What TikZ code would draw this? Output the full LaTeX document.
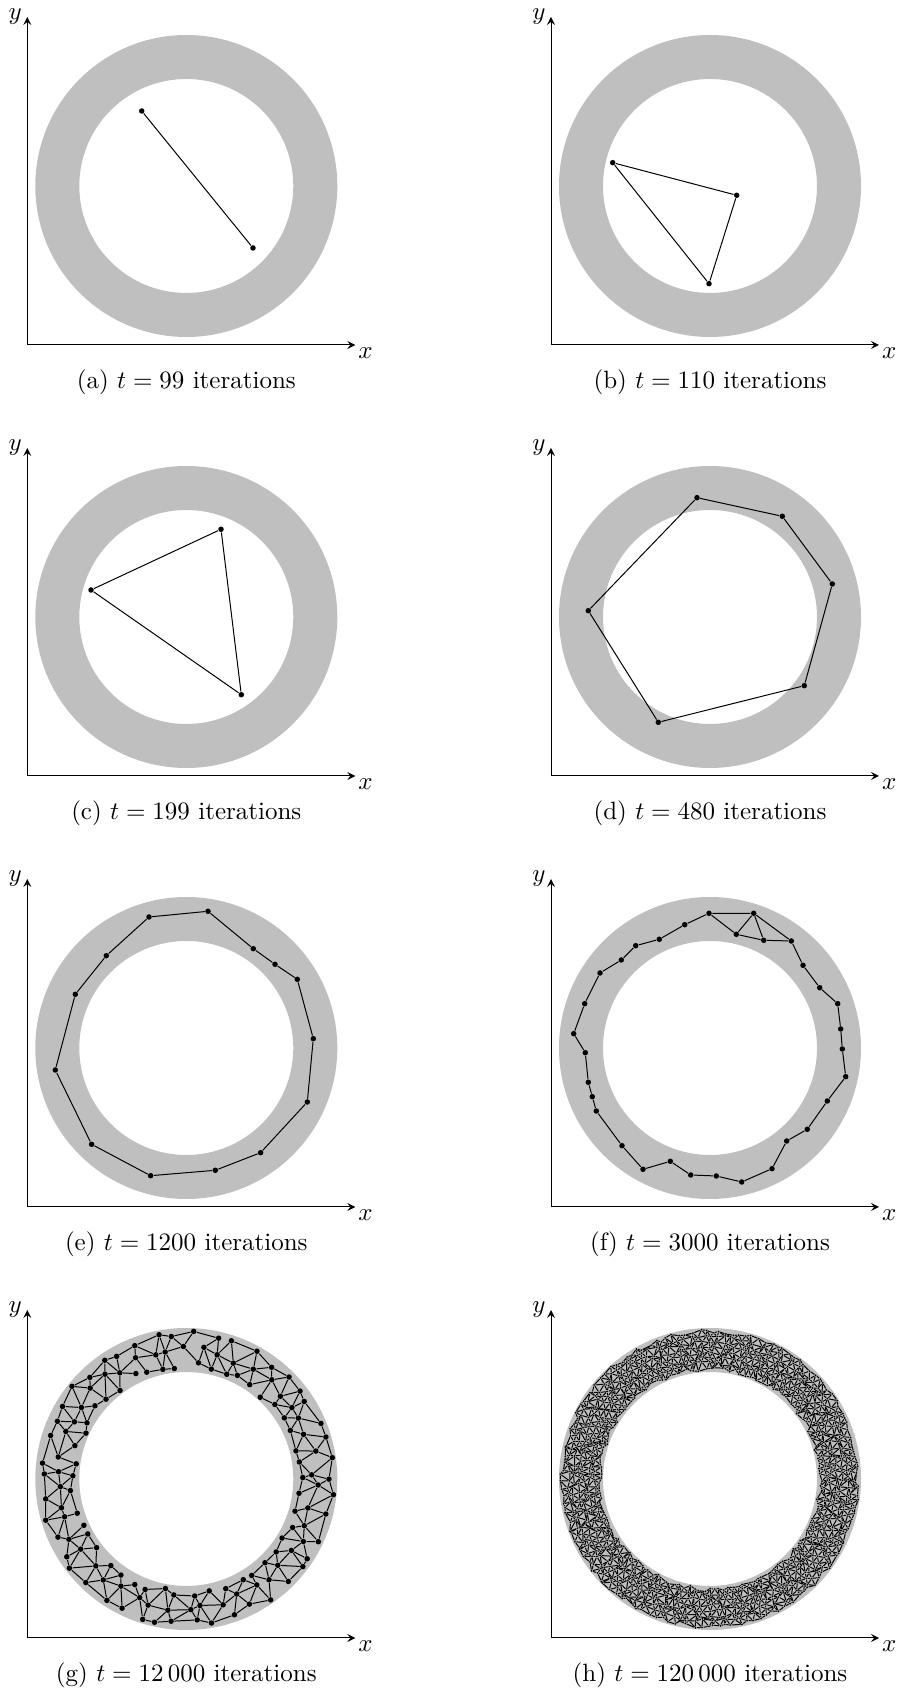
\documentclass[tikz,border=0pt]{standalone}
\usetikzlibrary{arrows}
\begin{document}
\begin{tikzpicture}[x=0.4pt, y=0.4pt, >=stealth,
        unit/.style={circle, fill=black, inner sep=0pt, minimum size=2.2pt},
        speck/.style={circle, fill=black, inner sep=0pt, minimum size=0.8pt},
        link/.style={thin},
        band/.style={fill=black!25, even odd rule}]
    \useasboundingbox (0,0) rectangle (903,1693);
    \foreach \ox/\oy/\lab/\num in {27.3/1348/a/99, 551/1348/b/110, 27.3/917/c/199, 551/917/d/480,
            27.3/486/e/1200, 551/486/f/3000, 27.3/55/g/{12\,000}, 551/55/h/{120\,000}} {
        \begin{scope}[shift={(\ox,\oy)}]
            \fill[band] (159,159) circle (151) (159,159) circle (107);
            \coordinate (o-\lab) at (0,0);
            \coordinate (ytip-\lab) at (0,328);
            \coordinate (xtip-\lab) at (328,0);
            \draw[->] (o-\lab) -- (ytip-\lab);
            \draw[->] (o-\lab) -- (xtip-\lab);
            \node[left, inner sep=2pt] (ylab-\lab) at (ytip-\lab) {$y$};
            \node[below right, inner sep=1pt] (xlab-\lab) at (xtip-\lab) {$x$};
            \node[anchor=base] (cap-\lab) at (159,-44) {(\lab) $t = \num$ iterations};
        \end{scope}
    }
    \begin{scope}[shift={(27.3,1348)}]
        \node[unit] (a1) at (114.4,234) {};
        \node[unit] (a2) at (225.7,97) {};
        \draw[link] (a1) -- (a2);
    \end{scope}
    \begin{scope}[shift={(551,1348)}]
        \node[unit] (b1) at (61.7,182.3) {};
        \node[unit] (b2) at (185.7,149.7) {};
        \node[unit] (b3) at (158,61.3) {};
        \draw[link] (b1) -- (b2) -- (b3) -- (b1);
    \end{scope}
    \begin{scope}[shift={(27.3,917)}]
        \node[unit] (c1) at (63.7,186) {};
        \node[unit] (c2) at (193.7,246.7) {};
        \node[unit] (c3) at (214,81.3) {};
        \draw[link] (c1) -- (c2) -- (c3) -- (c1);
    \end{scope}
    \begin{scope}[shift={(551,917)}]
        \node[unit] (d1) at (146,278.3) {};
        \node[unit] (d2) at (231.3,259.7) {};
        \node[unit] (d3) at (281.3,192) {};
        \node[unit] (d4) at (253.3,90.3) {};
        \node[unit] (d5) at (107.3,53.7) {};
        \node[unit] (d6) at (37.3,165.3) {};
        \draw[link] (d1) -- (d2) -- (d3) -- (d4) -- (d5) -- (d6) -- (d1);
    \end{scope}
    \begin{scope}[shift={(27.3,486)}]
        \node[unit] (e1) at (121.7,290) {};
        \node[unit] (e2) at (180.7,295.7) {};
        \node[unit] (e3) at (226,258.3) {};
        \node[unit] (e4) at (247.7,242.7) {};
        \node[unit] (e5) at (270,227.7) {};
        \node[unit] (e6) at (286,168.3) {};
        \node[unit] (e7) at (280,105) {};
        \node[unit] (e8) at (233.3,54.3) {};
        \node[unit] (e9) at (188,36.7) {};
        \node[unit] (e10) at (123.3,31.3) {};
        \node[unit] (e11) at (64.3,62.7) {};
        \node[unit] (e12) at (28,137) {};
        \node[unit] (e13) at (48,212.7) {};
        \node[unit] (e14) at (79,251.3) {};
        \draw[link] (e1) -- (e2) -- (e3) -- (e4) -- (e5) -- (e6) -- (e7) -- (e8) -- (e9) -- (e10)
            -- (e11) -- (e12) -- (e13) -- (e14) -- (e1);
    \end{scope}
    \begin{scope}[shift={(551,486)}]
        \node[unit] (fa) at (158,293.7) {};
        \node[unit] (fb) at (202.7,293.7) {};
        \node[unit] (fc) at (185.3,272.7) {};
        \node[unit] (fd) at (212.7,266.7) {};
        \node[unit] (fe) at (240.3,266) {};
        \node[unit] (f1) at (252,241.7) {};
        \node[unit] (f2) at (268.7,219.3) {};
        \node[unit] (f3) at (286.7,203.3) {};
        \node[unit] (f4) at (289.7,178) {};
        \node[unit] (f5) at (291.3,158) {};
        \node[unit] (f6) at (294.7,130.3) {};
        \node[unit] (f7) at (276.3,106) {};
        \node[unit] (f8) at (256.3,77.7) {};
        \node[unit] (f9) at (235.7,66) {};
        \node[unit] (f10) at (221,38.3) {};
        \node[unit] (f11) at (190.7,25) {};
        \node[unit] (f12) at (165.3,31) {};
        \node[unit] (f13) at (139.7,32) {};
        \node[unit] (f14) at (119.3,45.7) {};
        \node[unit] (f15) at (92,37.7) {};
        \node[unit] (f16) at (71,61.3) {};
        \node[unit] (f17) at (45.3,96) {};
        \node[unit] (f18) at (41.3,110.3) {};
        \node[unit] (f19) at (37.3,124.7) {};
        \node[unit] (f20) at (34.3,154.3) {};
        \node[unit] (f21) at (22.7,173.3) {};
        \node[unit] (f22) at (33.7,203.3) {};
        \node[unit] (f23) at (49,234) {};
        \node[unit] (f24) at (70.3,247) {};
        \node[unit] (f25) at (84.7,261.3) {};
        \node[unit] (f26) at (108.3,267.7) {};
        \node[unit] (f27) at (133.7,282.3) {};
        \draw[link] (fa) -- (fb) -- (fc) -- (fa);
        \draw[link] (fc) -- (fd) -- (fb) -- (fe) -- (fd);
        \draw[link] (fe) -- (f1) -- (f2) -- (f3) -- (f4) -- (f5) -- (f6) -- (f7) -- (f8) -- (f9)
            -- (f10) -- (f11) -- (f12) -- (f13) -- (f14) -- (f15) -- (f16) -- (f17) -- (f18)
            -- (f19) -- (f20) -- (f21) -- (f22) -- (f23) -- (f24) -- (f25) -- (f26) -- (f27) -- (fa);
    \end{scope}
    \pgfmathsetseed{4242}
    \begin{scope}[shift={(186.3,214)}]
        \foreach \k in {0,1,2}
            \foreach \i in {0,...,45} {
                \pgfmathsetmacro\ang{(\i+0.5*mod(\k,2)+0.3*rand)*7.826}
                \pgfmathsetmacro\rad{114+15*\k+4*rand}
                \node[unit] (g-\k-\i) at (\ang:\rad) {};
            }
        \foreach \k in {0,1,2}
            \foreach \i in {0,...,45} {
                \pgfmathtruncatemacro\j{mod(\i+1,46)}
                \pgfmathtruncatemacro\gap{100*rnd}
                \ifnum\gap<88 \draw[link] (g-\k-\i) -- (g-\k-\j); \fi
            }
        \foreach \k/\l in {0/1,1/2}
            \foreach \i in {0,...,45} {
                \pgfmathtruncatemacro\m{mod(\i+2*mod(\k,2)+45,46)}
                \draw[link] (g-\k-\i) -- (g-\l-\i);
                \pgfmathtruncatemacro\gap{100*rnd}
                \ifnum\gap<85 \draw[link] (g-\k-\i) -- (g-\l-\m); \fi
            }
    \end{scope}
    \begin{scope}[shift={(710,214)}]
        \foreach \k in {0,...,7}
            \foreach \i in {0,...,139} {
                \pgfmathsetmacro\ang{(\i+0.5*mod(\k,2)+0.45*rand)*2.5714}
                \pgfmathsetmacro\rad{110.5+5.3*\k+2.3*rand}
                \node[speck] (h-\k-\i) at (\ang:\rad) {};
            }
        \foreach \k in {0,...,7}
            \foreach \i in {0,...,139} {
                \pgfmathtruncatemacro\j{mod(\i+1,140)}
                \draw[link] (h-\k-\i) -- (h-\k-\j);
            }
        \foreach \k/\l in {0/1,1/2,2/3,3/4,4/5,5/6,6/7}
            \foreach \i in {0,...,139} {
                \pgfmathtruncatemacro\m{mod(\i+2*mod(\k,2)+139,140)}
                \draw[link] (h-\k-\i) -- (h-\l-\i);
                \draw[link] (h-\k-\i) -- (h-\l-\m);
            }
    \end{scope}
\end{tikzpicture}
\end{document}
